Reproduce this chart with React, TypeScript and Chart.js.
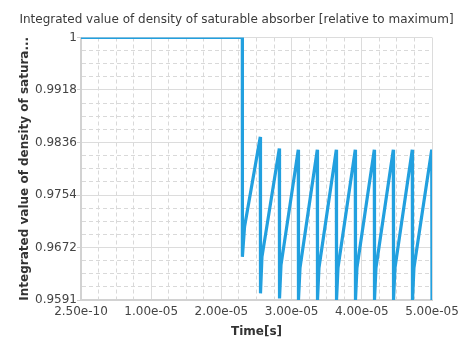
import React, { useEffect, useRef } from 'react';
import { Chart, registerables } from 'chart.js';

Chart.register(...registerables);

const chartTitle = 'Integrated value of density of saturable absorber [relative to maximum]';
const yAxisTitle = 'Integrated value of density of satura...';
const xAxisTitle = 'Time[s]';

const timeValues = [
  2.5e-10, 2.298e-5, 2.299e-5, 2.33e-5, 2.554e-5,
  2.557e-5, 2.578e-5, 2.825e-5,
  2.828e-5, 2.849e-5, 3.095e-5,
  3.098e-5, 3.12e-5, 3.366e-5,
  3.369e-5, 3.39e-5, 3.637e-5,
  3.64e-5, 3.661e-5, 3.907e-5,
  3.91e-5, 3.931e-5, 4.178e-5,
  4.181e-5, 4.202e-5, 4.449e-5,
  4.452e-5, 4.473e-5, 4.719e-5,
  4.722e-5, 4.743e-5, 4.996e-5,
  5.0e-5,
];
const densityValues = [
  1, 1, 0.9658, 0.9705, 0.9845,
  0.9601, 0.9658, 0.9827,
  0.9593, 0.9645, 0.9825,
  0.95906, 0.9641, 0.9825,
  0.95906, 0.9641, 0.9825,
  0.95906, 0.9641, 0.9825,
  0.95906, 0.9641, 0.9825,
  0.95906, 0.9641, 0.9825,
  0.95906, 0.9641, 0.9825,
  0.95906, 0.9641, 0.9825,
  0.95906,
];

const xTickValues = [2.5e-10, 1e-5, 2e-5, 3e-5, 4e-5, 5e-5];
const xTickLabels = ['2.50e-10', '1.00e-05', '2.00e-05', '3.00e-05', '4.00e-05', '5.00e-05'];
const yMin = 0.95906;
const yMax = 1;
const yTickLabels = ['0.9591', '0.9672', '0.9754', '0.9836', '0.9918', '1'];

const FONT = "'DejaVu Sans', sans-serif";
const MINOR = 4;

function withMinor(majors: number[]): number[] {
  const out: number[] = [];
  for (let i = 0; i < majors.length - 1; i++) {
    for (let k = 0; k < MINOR; k++) {
      out.push(majors[i] + ((majors[i + 1] - majors[i]) * k) / MINOR);
    }
  }
  out.push(majors[majors.length - 1]);
  return out;
}

export default function App() {
  const ref = useRef<HTMLCanvasElement | null>(null);

  useEffect(() => {
    if (!ref.current) return;
    const yMajors = yTickLabels.map((_, i) => yMin + ((yMax - yMin) * i) / (yTickLabels.length - 1));
    const xTicksAll = withMinor(xTickValues);
    const yTicksAll = withMinor(yMajors);
    const isMajor = (ctx: any) => ctx.index % MINOR === 0;
    const gridColor = (ctx: any) => (isMajor(ctx) ? '#dcdcdc' : '#d9d9d9');

    const chart = new Chart(ref.current, {
      type: 'line',
      data: {
        datasets: [
          {
            data: timeValues.map((t, i) => ({ x: t, y: densityValues[i] })),
            borderColor: '#22a0df',
            backgroundColor: '#22a0df',
            borderWidth: 3.2,
            pointRadius: 0,
            tension: 0,
            fill: false,
            yAxisID: 'y',
          },
        ],
      },
      options: {
        animation: false,
        responsive: false,
        layout: { padding: 0 },
        plugins: {
          legend: { display: false },
          tooltip: { enabled: false },
          title: {
            display: true,
            text: chartTitle,
            color: '#3a3a3a',
            font: { family: FONT, size: 12, weight: 'normal' },
            padding: { top: 12.8, bottom: 10.3 },
          },
        },
        scales: {
          x: {
            type: 'linear',
            min: xTickValues[0],
            max: xTickValues[xTickValues.length - 1],
            afterBuildTicks: (scale: any) => {
              scale.ticks = xTicksAll.map((v) => ({ value: v }));
            },
            afterFit: (scale: any) => {
              scale.height = 53;
            },
            ticks: {
              autoSkip: false,
              maxRotation: 0,
              minRotation: 0,
              padding: 5,
              color: '#444',
              font: { family: FONT, size: 12 },
              callback: (_v: any, i: number) => (i % MINOR === 0 ? xTickLabels[i / MINOR] : ''),
            },
            grid: {
              drawTicks: false,
              color: gridColor,
              lineWidth: 1,
            },
            border: {
              display: true,
              color: '#d2d2d2',
              width: 2,
              dash: (ctx: any) => (isMajor(ctx) ? [] : [4, 3]),
            },
            title: {
              display: true,
              text: xAxisTitle,
              color: '#333',
              font: { family: FONT, size: 12, weight: 'bold' },
              padding: { top: 4, bottom: 14 },
            },
          },
          y: {
            type: 'linear',
            position: 'left',
            min: yMin,
            max: yMax,
            afterBuildTicks: (scale: any) => {
              scale.ticks = yTicksAll.map((v) => ({ value: v }));
            },
            afterFit: (scale: any) => {
              scale.width = 81;
            },
            ticks: {
              autoSkip: false,
              padding: 0,
              color: '#444',
              font: { family: FONT, size: 12 },
              callback: (_v: any, i: number) => (i % MINOR === 0 ? yTickLabels[i / MINOR] : ''),
            },
            grid: {
              tickLength: 4,
              color: gridColor,
              tickColor: (ctx: any) => (isMajor(ctx) ? '#cfcfcf' : 'rgba(0,0,0,0)'),
              lineWidth: 1,
            },
            border: {
              display: true,
              color: '#d2d2d2',
              width: 2,
              dash: (ctx: any) => (isMajor(ctx) ? [] : [4, 3]),
            },
            title: {
              display: true,
              text: yAxisTitle,
              color: '#333',
              font: { family: FONT, size: 12, weight: 'bold' },
              padding: { top: 17.8, bottom: 4 },
            },
          },
          yRight: {
            type: 'linear',
            position: 'right',
            display: true,
            afterFit: (scale: any) => {
              scale.width = 41;
            },
            ticks: { display: false },
            grid: { display: false, drawOnChartArea: false, drawTicks: false },
            border: { display: false },
            title: { display: false },
          },
        },
      } as any,
    });
    return () => chart.destroy();
  }, []);

  return (
    <canvas
      ref={ref}
      width={473}
      height={353}
      style={{ position: 'absolute', left: 0, top: 0, width: 473, height: 353 }}
    />
  );
}
